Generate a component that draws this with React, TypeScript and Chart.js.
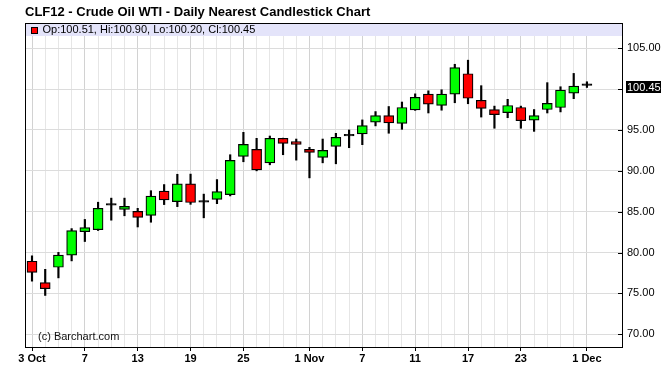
import React, { useEffect, useRef } from "react";
import { Chart, registerables } from "chart.js";

Chart.register(...registerables);

// ---------- data ----------
const dates = [
  "3 Oct", "4 Oct", "5 Oct", "6 Oct", "7 Oct", "10 Oct", "11 Oct", "12 Oct", "13 Oct", "14 Oct",
  "17 Oct", "18 Oct", "19 Oct", "20 Oct", "21 Oct", "24 Oct", "25 Oct", "26 Oct", "27 Oct", "28 Oct",
  "31 Oct", "1 Nov", "2 Nov", "3 Nov", "4 Nov", "7 Nov", "8 Nov", "9 Nov", "10 Nov", "11 Nov",
  "14 Nov", "15 Nov", "16 Nov", "17 Nov", "18 Nov", "21 Nov", "22 Nov", "23 Nov", "25 Nov", "28 Nov",
  "29 Nov", "30 Nov", "1 Dec",
];
const opens = [
  78.94, 76.33, 78.2, 79.69, 82.55, 82.8, 85.85, 85.29, 85.04, 84.54,
  87.53, 86.24, 88.4, 86.22, 86.5, 87.09, 91.76, 92.62, 90.98, 93.98,
  93.57, 92.62, 91.64, 92.99, 94.32, 94.52, 95.95, 96.76, 95.8, 97.46,
  99.38, 98.0, 99.38, 101.88, 98.63, 97.5, 97.13, 97.75, 96.21, 97.5,
  97.75, 99.5, 100.51,
];
const highs = [
  79.6, 77.95, 80.02, 82.93, 84.05, 86.16, 86.66, 86.66, 85.41, 87.57,
  88.32, 89.58, 89.6, 87.15, 88.93, 91.97, 94.71, 93.98, 94.26, 94.0,
  93.89, 92.87, 93.89, 94.59, 95.0, 96.23, 97.25, 97.87, 98.42, 99.42,
  99.79, 99.92, 103.04, 103.54, 100.42, 97.92, 98.75, 97.92, 97.5, 100.79,
  100.29, 101.92, 100.9,
];
const lows = [
  76.5, 74.75, 76.9, 78.98, 81.35, 82.7, 83.96, 84.5, 83.13, 83.71,
  85.87, 85.62, 85.9, 84.25, 85.98, 86.93, 91.11, 90.0, 90.74, 91.97,
  91.31, 89.14, 90.98, 90.86, 92.83, 93.2, 95.5, 94.6, 95.08, 97.4,
  97.08, 97.42, 98.33, 98.21, 96.58, 95.21, 96.5, 95.21, 94.83, 97.08,
  97.21, 98.83, 100.2,
];
const closes = [
  77.57, 75.58, 79.69, 82.68, 83.05, 85.41, 85.8, 85.66, 84.29, 86.91,
  86.45, 88.4, 86.12, 86.18, 87.47, 91.27, 93.24, 90.12, 93.98, 93.36,
  93.24, 92.25, 92.5, 94.1, 94.28, 95.54, 96.76, 95.86, 97.75, 99.0,
  98.17, 99.38, 102.63, 98.88, 97.63, 96.88, 98.0, 96.13, 96.75, 98.25,
  99.88, 100.38, 100.45,
];
const tickDates = ["3 Oct", "7 Oct", "13 Oct", "19 Oct", "25 Oct", "1 Nov", "7 Nov", "11 Nov", "17 Nov", "23 Nov", "1 Dec"];
const tickLabels = ["3 Oct", "7", "13", "19", "25", "1 Nov", "7", "11", "17", "23", "1 Dec"];
const yTicks = [70, 75, 80, 85, 90, 95, 100, 105];
const titleText = "CLF12 - Crude Oil WTI - Daily Nearest Candlestick Chart";
const watermarkText = "(c) Barchart.com";

// ---------- helpers ----------
const FONT = '"Liberation Sans", Arial, Helvetica, sans-serif';
const last = dates.length - 1;
const legendText =
  `Op:${opens[last].toFixed(2)}, Hi:${highs[last].toFixed(2)}, ` +
  `Lo:${lows[last].toFixed(2)}, Cl:${closes[last].toFixed(2)}`;
const tickMap = new Map<number, string>();
tickDates.forEach((d, k) => tickMap.set(dates.indexOf(d), tickLabels[k]));

const decorPlugin = {
  id: "decor",
  beforeDatasetsDraw(chart: any) {
    const { ctx, chartArea: a, scales } = chart;
    ctx.save();
    // legend band
    ctx.fillStyle = "rgb(228,228,250)";
    ctx.fillRect(a.left, a.top, a.right - a.left, 13);
    // legend square
    ctx.fillStyle = closes[last] < opens[last] ? "#ff0000" : "#00ff00";
    ctx.fillRect(31, a.top + 4, 7, 7);
    ctx.strokeStyle = "#000";
    ctx.lineWidth = 1;
    ctx.strokeRect(31.5, a.top + 4.5, 6, 6);
    ctx.fillStyle = "#000";
    ctx.font = `11px ${FONT}`;
    ctx.textBaseline = "middle";
    ctx.textAlign = "left";
    ctx.fillText(legendText, 42.5, a.top + 7);
    // y tick marks inside plot
    ctx.strokeStyle = "#000";
    ctx.lineWidth = 1;
    yTicks.forEach((v) => {
      const y = Math.round(scales.y.getPixelForValue(v)) + 0.5;
      ctx.beginPath();
      ctx.moveTo(a.right - 5, y);
      ctx.lineTo(a.right, y);
      ctx.stroke();
    });
    // watermark
    ctx.textBaseline = "alphabetic";
    ctx.fillStyle = "#111";
    ctx.fillText(watermarkText, 38, 339.5);
    ctx.restore();
  },
  afterDraw(chart: any) {
    const { ctx, chartArea: a, scales } = chart;
    ctx.save();
    ctx.strokeStyle = "#000";
    ctx.lineWidth = 1;
    ctx.strokeRect(a.left + 0.5, a.top + 0.5, a.right - a.left - 1, a.bottom - a.top - 1);
    // last price box
    const y = scales.y.getPixelForValue(closes[last]);
    ctx.fillStyle = "#000";
    ctx.fillRect(a.right + 3, Math.round(y - 4.5), 35, 12);
    ctx.fillStyle = "#fff";
    ctx.font = `11px ${FONT}`;
    ctx.textBaseline = "middle";
    ctx.textAlign = "left";
    ctx.fillText(closes[last].toFixed(2), a.right + 4, Math.round(y - 4.5) + 6.5);
    ctx.restore();
  },
};

export default function App() {
  const ref = useRef<HTMLCanvasElement>(null);
  useEffect(() => {
    const bodyData = dates.map((_, i) => ({ x: i, y: [opens[i], closes[i]] }));
    const wickData = dates.map((_, i) => ({ x: i, y: [lows[i], highs[i]] }));
    const bodyColors = dates.map((_, i) =>
      Math.abs(closes[i] - opens[i]) < 0.1 ? "#000" : closes[i] >= opens[i] ? "#00ff00" : "#ff0000"
    );
    const chart = new Chart(ref.current as HTMLCanvasElement, {
      type: "bar",
      data: {
        datasets: [
          {
            label: "body",
            data: bodyData as any,
            backgroundColor: bodyColors,
            borderColor: "#000",
            borderWidth: 1.2,
            borderSkipped: false,
            barThickness: 10,
            minBarLength: 1.5,
            grouped: false,
            order: 0,
          } as any,
          {
            label: "wick",
            data: wickData as any,
            backgroundColor: "#000",
            borderWidth: 0,
            barThickness: 1.5,
            grouped: false,
            order: 1,
          } as any,
        ],
      },
      options: {
        responsive: false,
        animation: false,
        events: [],
        layout: { padding: { left: 25, right: 0, top: 0, bottom: 0 } },
        plugins: {
          legend: { display: false },
          tooltip: { enabled: false },
          title: {
            display: true,
            text: titleText,
            align: "start",
            color: "#000",
            font: { family: FONT, size: 13, weight: "bold", lineHeight: 1.2 },
            padding: { top: 4.5, bottom: 2.9 },
          },
        },
        scales: {
          x: {
            type: "linear",
            min: -0.53,
            max: 44.73,
            offset: false,
            afterBuildTicks: (scale: any) => {
              scale.ticks = dates.map((_, i) => ({ value: i }));
            },
            afterFit: (scale: any) => {
              scale.height = 31;
            },
            grid: {
              offset: false,
              drawOnChartArea: true,
              color: (c: any) => (tickMap.has(c.tick?.value) ? "#d2d2d2" : "#e6e6e6"),
              tickColor: (c: any) => (tickMap.has(c.tick?.value) ? "#000" : "rgba(0,0,0,0)"),
              tickLength: 3,
              lineWidth: 1,
            },
            border: { display: false },
            ticks: {
              autoSkip: false,
              maxRotation: 0,
              minRotation: 0,
              padding: 1,
              color: "#000",
              font: { family: FONT, size: 11, weight: "bold" },
              callback: (v: any) => tickMap.get(Number(v)) ?? "",
            },
          },
          y: {
            type: "linear",
            position: "right",
            min: 68.32,
            max: 108.09,
            afterBuildTicks: (scale: any) => {
              scale.ticks = yTicks.map((v) => ({ value: v }));
            },
            afterFit: (scale: any) => {
              scale.width = 43;
            },
            grid: { color: "#dcdcdc", drawTicks: false, lineWidth: 1 },
            border: { display: false },
            ticks: {
              padding: 4,
              color: "#000",
              font: { family: FONT, size: 11 },
              callback: (v: any) => (Number(v) === 100 ? "" : Number(v).toFixed(2)),
            },
          },
        },
      } as any,
      plugins: [decorPlugin],
    });
    return () => chart.destroy();
  }, []);
  return (
    <div style={{ position: "fixed", left: 0, top: 0, width: 666, height: 379, background: "#fff" }}>
      <canvas ref={ref} width={666} height={379} style={{ display: "block", width: 666, height: 379 }} />
    </div>
  );
}
